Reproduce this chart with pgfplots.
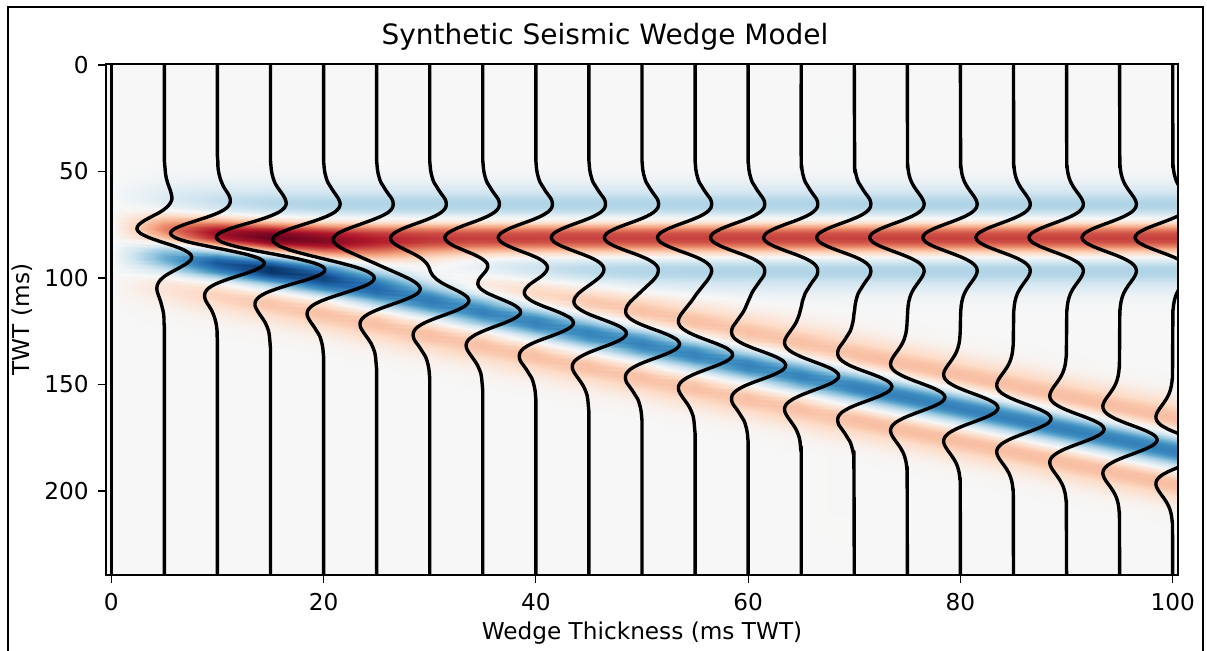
\documentclass[border=0pt]{standalone}
\usepackage{pgfplots}
\pgfplotsset{compat=1.18}
\usepackage{pgfplotstable}
\usepackage{fontspec}
\setmainfont{DejaVu Sans}
\definecolor{rdmid}{RGB}{247,247,247}
\pgfplotsset{wig/.style={black, line width=1.7pt, smooth, line join=round}}

% synthetic amplitude on a sheared grid (x = wedge thickness, t = TWT, s = amplitude)
\pgfplotstableread[row sep=\\]{
x t s\\
0 -0.5 0\\ 0 19 0\\ 0 21 0\\ 0 23 0\\ 0 25 0\\ 0 27 0\\ 0 29 0\\ 0 31 0\\ 0 33 0\\ 0 35 0\\ 0 37 0\\ 0 39 0\\ 0 41 0\\ 0 43 0\\ 0 45 0\\
0 47 0\\ 0 49 0\\ 0 51 0\\ 0 53 0\\ 0 55 0\\ 0 57 0\\ 0 59 0\\ 0 61 0\\ 0 63 0\\ 0 65 0\\ 0 67 0\\ 0 69 0\\ 0 71 0\\ 0 73 0\\ 0 75 0\\
0 77 0\\ 0 79 0\\ 0 81 0\\ 0 83 0\\ 0 85 0\\ 0 87 0\\ 0 89 0\\ 0 91 0\\ 0 93 0\\ 0 95 0\\ 0 97 0\\ 0 99 0\\ 0 101 0\\ 0 103 0\\ 0 105 0\\
0 107 0\\ 0 109 0\\ 0 111 0\\ 0 113 0\\ 0 115 0\\ 0 117 0\\ 0 119 0\\ 0 121 0\\ 0 123 0\\ 0 125 0\\ 0 127 0\\ 0 129 0\\ 0 131 0\\ 0 133 0\\ 0 135 0\\
0 137 0\\ 0 139 0\\ 0 141 0\\ 0 143 0\\ 0 145 0\\ 0 147 0\\ 0 149 0\\ 0 151 0\\ 0 153 0\\ 0 155 0\\ 0 157 0\\ 0 239.5 0\\
5 -0.5 0\\ 5 21 0\\ 5 23 0\\ 5 25 0\\ 5 27 0\\ 5 29 0\\ 5 31 0\\ 5 33 0\\ 5 35 0\\ 5 37 0\\ 5 39 0\\ 5 41 0\\ 5 43 0\\ 5 45 0\\
5 47 0.01\\ 5 49 0.02\\ 5 51 0.03\\ 5 53 0.05\\ 5 55 0.08\\ 5 57 0.12\\ 5 59 0.16\\ 5 61 0.19\\ 5 63 0.20\\ 5 65 0.15\\ 5 67 0.05\\
5 69 -0.11\\ 5 71 -0.32\\ 5 73 -0.53\\ 5 75 -0.68\\ 5 77 -0.73\\ 5 79 -0.64\\ 5 81 -0.41\\ 5 83 -0.09\\ 5 85 0.26\\ 5 87 0.54\\
5 89 0.70\\ 5 91 0.72\\ 5 93 0.61\\ 5 95 0.42\\ 5 97 0.21\\ 5 99 0.02\\ 5 101 -0.11\\ 5 103 -0.18\\ 5 105 -0.20\\ 5 107 -0.18\\
5 109 -0.14\\ 5 111 -0.10\\ 5 113 -0.07\\ 5 115 -0.04\\ 5 117 -0.02\\ 5 119 -0.01\\ 5 121 -0.01\\
5 123 0\\ 5 125 0\\ 5 127 0\\ 5 129 0\\ 5 131 0\\ 5 133 0\\ 5 135 0\\ 5 137 0\\ 5 139 0\\ 5 141 0\\ 5 143 0\\ 5 145 0\\ 5 147 0\\
5 149 0\\ 5 151 0\\ 5 153 0\\ 5 155 0\\ 5 157 0\\ 5 159 0\\ 5 239.5 0\\
10 -0.5 0\\ 10 23 0\\ 10 25 0\\ 10 27 0\\ 10 29 0\\ 10 31 0\\ 10 33 0\\ 10 35 0\\ 10 37 0\\ 10 39 0\\ 10 41 0\\ 10 43 0\\
10 45 0.01\\ 10 47 0.01\\ 10 49 0.02\\ 10 51 0.04\\ 10 53 0.07\\ 10 55 0.11\\ 10 57 0.16\\ 10 59 0.23\\ 10 61 0.30\\ 10 63 0.34\\
10 65 0.33\\ 10 67 0.25\\ 10 69 0.07\\ 10 71 -0.21\\ 10 73 -0.55\\ 10 75 -0.89\\ 10 77 -1.15\\ 10 79 -1.25\\ 10 81 -1.13\\ 10 83 -0.79\\
10 85 -0.28\\ 10 87 0.28\\ 10 89 0.79\\ 10 91 1.13\\ 10 93 1.25\\ 10 95 1.15\\ 10 97 0.89\\ 10 99 0.55\\ 10 101 0.21\\ 10 103 -0.07\\
10 105 -0.25\\ 10 107 -0.33\\ 10 109 -0.34\\ 10 111 -0.30\\ 10 113 -0.23\\ 10 115 -0.16\\ 10 117 -0.11\\ 10 119 -0.07\\ 10 121 -0.04\\
10 123 -0.02\\ 10 125 -0.01\\ 10 127 -0.01\\
10 129 0\\ 10 131 0\\ 10 133 0\\ 10 135 0\\ 10 137 0\\ 10 139 0\\ 10 141 0\\ 10 143 0\\ 10 145 0\\ 10 147 0\\ 10 149 0\\ 10 151 0\\
10 153 0\\ 10 155 0\\ 10 157 0\\ 10 159 0\\ 10 161 0\\ 10 239.5 0\\
15 -0.5 0\\ 15 25 0\\ 15 27 0\\ 15 29 0\\ 15 31 0\\ 15 33 0\\ 15 35 0\\ 15 37 0\\ 15 39 0\\ 15 41 0\\ 15 43 0\\ 15 45 0\\
15 47 0.01\\ 15 49 0.02\\ 15 51 0.04\\ 15 53 0.07\\ 15 55 0.11\\ 15 57 0.17\\ 15 59 0.25\\ 15 61 0.33\\ 15 63 0.39\\ 15 65 0.42\\
15 67 0.37\\ 15 69 0.23\\ 15 71 -0.02\\ 15 73 -0.35\\ 15 75 -0.74\\ 15 77 -1.10\\ 15 79 -1.36\\ 15 81 -1.44\\ 15 83 -1.31\\ 15 85 -0.96\\
15 87 -0.45\\ 15 89 0.15\\ 15 91 0.72\\ 15 93 1.16\\ 15 95 1.41\\ 15 97 1.43\\ 15 99 1.25\\ 15 101 0.93\\ 15 103 0.54\\ 15 105 0.18\\
15 107 -0.12\\ 15 109 -0.31\\ 15 111 -0.40\\ 15 113 -0.41\\ 15 115 -0.36\\ 15 117 -0.29\\ 15 119 -0.21\\ 15 121 -0.14\\ 15 123 -0.09\\
15 125 -0.05\\ 15 127 -0.03\\ 15 129 -0.02\\ 15 131 -0.01\\
15 133 0\\ 15 135 0\\ 15 137 0\\ 15 139 0\\ 15 141 0\\ 15 143 0\\ 15 145 0\\ 15 147 0\\ 15 149 0\\ 15 151 0\\ 15 153 0\\ 15 155 0\\
15 157 0\\ 15 159 0\\ 15 161 0\\ 15 163 0\\ 15 239.5 0\\
20 -0.5 0\\ 20 27 0\\ 20 29 0\\ 20 31 0\\ 20 33 0\\ 20 35 0\\ 20 37 0\\ 20 39 0\\ 20 41 0\\ 20 43 0\\ 20 45 0\\
20 47 0.01\\ 20 49 0.02\\ 20 51 0.04\\ 20 53 0.07\\ 20 55 0.11\\ 20 57 0.18\\ 20 59 0.25\\ 20 61 0.33\\ 20 63 0.40\\ 20 65 0.44\\
20 67 0.41\\ 20 69 0.30\\ 20 71 0.09\\ 20 73 -0.21\\ 20 75 -0.56\\ 20 77 -0.90\\ 20 79 -1.18\\ 20 81 -1.33\\ 20 83 -1.33\\ 20 85 -1.17\\
20 87 -0.87\\ 20 89 -0.46\\ 20 91 0\\ 20 93 0.46\\ 20 95 0.87\\ 20 97 1.17\\ 20 99 1.33\\ 20 101 1.33\\ 20 103 1.18\\ 20 105 0.90\\
20 107 0.56\\ 20 109 0.21\\ 20 111 -0.09\\ 20 113 -0.30\\ 20 115 -0.41\\ 20 117 -0.44\\ 20 119 -0.40\\ 20 121 -0.33\\ 20 123 -0.25\\
20 125 -0.18\\ 20 127 -0.11\\ 20 129 -0.07\\ 20 131 -0.04\\ 20 133 -0.02\\ 20 135 -0.01\\
20 137 0\\ 20 139 0\\ 20 141 0\\ 20 143 0\\ 20 145 0\\ 20 147 0\\ 20 149 0\\ 20 151 0\\ 20 153 0\\ 20 155 0\\ 20 157 0\\ 20 159 0\\
20 161 0\\ 20 163 0\\ 20 165 0\\ 20 239.5 0\\
25 -0.5 0\\ 25 29 0\\ 25 31 0\\ 25 33 0\\ 25 35 0\\ 25 37 0\\ 25 39 0\\ 25 41 0\\ 25 43 0\\ 25 45 0\\
25 47 0.01\\ 25 49 0.02\\ 25 51 0.04\\ 25 53 0.07\\ 25 55 0.11\\ 25 57 0.18\\ 25 59 0.25\\ 25 61 0.33\\ 25 63 0.41\\ 25 65 0.44\\
25 67 0.42\\ 25 69 0.32\\ 25 71 0.12\\ 25 73 -0.16\\ 25 75 -0.47\\ 25 77 -0.78\\ 25 79 -1.02\\ 25 81 -1.14\\ 25 83 -1.14\\ 25 85 -1.02\\
25 87 -0.82\\ 25 89 -0.57\\ 25 91 -0.32\\ 25 93 -0.06\\ 25 95 0.19\\ 25 97 0.45\\ 25 99 0.70\\ 25 101 0.93\\ 25 103 1.09\\ 25 105 1.16\\
25 107 1.10\\ 25 109 0.91\\ 25 111 0.63\\ 25 113 0.31\\ 25 115 0.01\\ 25 117 -0.23\\ 25 119 -0.38\\ 25 121 -0.44\\ 25 123 -0.43\\
25 125 -0.37\\ 25 127 -0.29\\ 25 129 -0.21\\ 25 131 -0.14\\ 25 133 -0.09\\ 25 135 -0.05\\ 25 137 -0.03\\ 25 139 -0.02\\ 25 141 -0.01\\
25 143 0\\ 25 145 0\\ 25 147 0\\ 25 149 0\\ 25 151 0\\ 25 153 0\\ 25 155 0\\ 25 157 0\\ 25 159 0\\ 25 161 0\\ 25 163 0\\ 25 165 0\\
25 167 0\\ 25 239.5 0\\
30 -0.5 0\\ 30 31 0\\ 30 33 0\\ 30 35 0\\ 30 37 0\\ 30 39 0\\ 30 41 0\\ 30 43 0\\ 30 45 0\\
30 47 0.01\\ 30 49 0.02\\ 30 51 0.04\\ 30 53 0.07\\ 30 55 0.11\\ 30 57 0.18\\ 30 59 0.25\\ 30 61 0.33\\ 30 63 0.41\\ 30 65 0.44\\
30 67 0.42\\ 30 69 0.32\\ 30 71 0.13\\ 30 73 -0.14\\ 30 75 -0.45\\ 30 77 -0.74\\ 30 79 -0.95\\ 30 81 -1.04\\ 30 83 -1.00\\ 30 85 -0.84\\
30 87 -0.62\\ 30 89 -0.39\\ 30 91 -0.21\\ 30 93 -0.09\\ 30 95 -0.02\\ 30 97 0.02\\ 30 99 0.09\\ 30 101 0.21\\ 30 103 0.39\\ 30 105 0.62\\
30 107 0.84\\ 30 109 1.00\\ 30 111 1.04\\ 30 113 0.95\\ 30 115 0.74\\ 30 117 0.45\\ 30 119 0.14\\ 30 121 -0.13\\ 30 123 -0.32\\
30 125 -0.42\\ 30 127 -0.44\\ 30 129 -0.41\\ 30 131 -0.33\\ 30 133 -0.25\\ 30 135 -0.18\\ 30 137 -0.11\\ 30 139 -0.07\\ 30 141 -0.04\\
30 143 -0.02\\ 30 145 -0.01\\
30 147 0\\ 30 149 0\\ 30 151 0\\ 30 153 0\\ 30 155 0\\ 30 157 0\\ 30 159 0\\ 30 161 0\\ 30 163 0\\ 30 165 0\\ 30 167 0\\ 30 169 0\\
30 239.5 0\\
35 -0.5 0\\ 35 33 0\\ 35 35 0\\ 35 37 0\\ 35 39 0\\ 35 41 0\\ 35 43 0\\ 35 45 0\\
35 47 0.01\\ 35 49 0.02\\ 35 51 0.04\\ 35 53 0.07\\ 35 55 0.11\\ 35 57 0.18\\ 35 59 0.25\\ 35 61 0.33\\ 35 63 0.41\\ 35 65 0.44\\
35 67 0.42\\ 35 69 0.32\\ 35 71 0.13\\ 35 73 -0.14\\ 35 75 -0.45\\ 35 77 -0.73\\ 35 79 -0.93\\ 35 81 -1.01\\ 35 83 -0.94\\ 35 85 -0.76\\
35 87 -0.50\\ 35 89 -0.23\\ 35 91 -0.02\\ 35 93 0.11\\ 35 95 0.13\\ 35 97 0.07\\ 35 99 -0.03\\ 35 101 -0.11\\ 35 103 -0.13\\ 35 105 -0.06\\
35 107 0.11\\ 35 109 0.36\\ 35 111 0.63\\ 35 113 0.86\\ 35 115 0.99\\ 35 117 0.99\\ 35 119 0.84\\ 35 121 0.59\\ 35 123 0.29\\ 35 125 0\\
35 127 -0.23\\ 35 129 -0.38\\ 35 131 -0.44\\ 35 133 -0.43\\ 35 135 -0.37\\ 35 137 -0.29\\ 35 139 -0.21\\ 35 141 -0.14\\ 35 143 -0.09\\
35 145 -0.05\\ 35 147 -0.03\\ 35 149 -0.02\\ 35 151 -0.01\\
35 153 0\\ 35 155 0\\ 35 157 0\\ 35 159 0\\ 35 161 0\\ 35 163 0\\ 35 165 0\\ 35 167 0\\ 35 169 0\\ 35 171 0\\ 35 239.5 0\\
40 -0.5 0\\ 40 35 0\\ 40 37 0\\ 40 39 0\\ 40 41 0\\ 40 43 0\\ 40 45 0\\
40 47 0.01\\ 40 49 0.02\\ 40 51 0.04\\ 40 53 0.07\\ 40 55 0.11\\ 40 57 0.18\\ 40 59 0.25\\ 40 61 0.33\\ 40 63 0.41\\ 40 65 0.44\\
40 67 0.42\\ 40 69 0.32\\ 40 71 0.13\\ 40 73 -0.14\\ 40 75 -0.45\\ 40 77 -0.73\\ 40 79 -0.93\\ 40 81 -1.00\\ 40 83 -0.93\\ 40 85 -0.73\\
40 87 -0.46\\ 40 89 -0.16\\ 40 91 0.09\\ 40 93 0.25\\ 40 95 0.31\\ 40 97 0.27\\ 40 99 0.16\\ 40 101 0\\ 40 103 -0.16\\ 40 105 -0.27\\
40 107 -0.31\\ 40 109 -0.25\\ 40 111 -0.09\\ 40 113 0.16\\ 40 115 0.46\\ 40 117 0.73\\ 40 119 0.93\\ 40 121 1.00\\ 40 123 0.93\\
40 125 0.73\\ 40 127 0.45\\ 40 129 0.14\\ 40 131 -0.13\\ 40 133 -0.32\\ 40 135 -0.42\\ 40 137 -0.44\\ 40 139 -0.41\\ 40 141 -0.33\\
40 143 -0.25\\ 40 145 -0.18\\ 40 147 -0.11\\ 40 149 -0.07\\ 40 151 -0.04\\ 40 153 -0.02\\ 40 155 -0.01\\
40 157 0\\ 40 159 0\\ 40 161 0\\ 40 163 0\\ 40 165 0\\ 40 167 0\\ 40 169 0\\ 40 171 0\\ 40 173 0\\ 40 239.5 0\\
45 -0.5 0\\ 45 37 0\\ 45 39 0\\ 45 41 0\\ 45 43 0\\ 45 45 0\\
45 47 0.01\\ 45 49 0.02\\ 45 51 0.04\\ 45 53 0.07\\ 45 55 0.11\\ 45 57 0.18\\ 45 59 0.25\\ 45 61 0.33\\ 45 63 0.41\\ 45 65 0.44\\
45 67 0.42\\ 45 69 0.32\\ 45 71 0.13\\ 45 73 -0.14\\ 45 75 -0.45\\ 45 77 -0.73\\ 45 79 -0.93\\ 45 81 -1.00\\ 45 83 -0.93\\ 45 85 -0.73\\
45 87 -0.45\\ 45 89 -0.15\\ 45 91 0.12\\ 45 93 0.30\\ 45 95 0.39\\ 45 97 0.39\\ 45 99 0.32\\ 45 101 0.19\\ 45 103 0.04\\ 45 105 -0.12\\
45 107 -0.26\\ 45 109 -0.36\\ 45 111 -0.40\\ 45 113 -0.36\\ 45 115 -0.22\\ 45 117 0\\ 45 119 0.29\\ 45 121 0.59\\ 45 123 0.84\\
45 125 0.98\\ 45 127 0.98\\ 45 129 0.84\\ 45 131 0.59\\ 45 133 0.29\\ 45 135 0\\ 45 137 -0.23\\ 45 139 -0.38\\ 45 141 -0.44\\
45 143 -0.43\\ 45 145 -0.37\\ 45 147 -0.29\\ 45 149 -0.21\\ 45 151 -0.14\\ 45 153 -0.09\\ 45 155 -0.05\\ 45 157 -0.03\\ 45 159 -0.02\\
45 161 -0.01\\ 45 163 0\\ 45 165 0\\ 45 167 0\\ 45 169 0\\ 45 171 0\\ 45 173 0\\ 45 175 0\\ 45 239.5 0\\
50 -0.5 0\\ 50 39 0\\ 50 41 0\\ 50 43 0\\ 50 45 0\\
50 47 0.01\\ 50 49 0.02\\ 50 51 0.04\\ 50 53 0.07\\ 50 55 0.11\\ 50 57 0.18\\ 50 59 0.25\\ 50 61 0.33\\ 50 63 0.41\\ 50 65 0.44\\
50 67 0.42\\ 50 69 0.32\\ 50 71 0.13\\ 50 73 -0.14\\ 50 75 -0.45\\ 50 77 -0.73\\ 50 79 -0.93\\ 50 81 -1.00\\ 50 83 -0.93\\ 50 85 -0.73\\
50 87 -0.45\\ 50 89 -0.14\\ 50 91 0.13\\ 50 93 0.32\\ 50 95 0.42\\ 50 97 0.43\\ 50 99 0.39\\ 50 101 0.30\\ 50 103 0.18\\ 50 105 0.06\\
50 107 -0.06\\ 50 109 -0.18\\ 50 111 -0.30\\ 50 113 -0.39\\ 50 115 -0.43\\ 50 117 -0.42\\ 50 119 -0.32\\ 50 121 -0.13\\ 50 123 0.14\\
50 125 0.45\\ 50 127 0.73\\ 50 129 0.93\\ 50 131 1.00\\ 50 133 0.93\\ 50 135 0.73\\ 50 137 0.45\\ 50 139 0.14\\ 50 141 -0.13\\
50 143 -0.32\\ 50 145 -0.42\\ 50 147 -0.44\\ 50 149 -0.41\\ 50 151 -0.33\\ 50 153 -0.25\\ 50 155 -0.18\\ 50 157 -0.11\\ 50 159 -0.07\\
50 161 -0.04\\ 50 163 -0.02\\ 50 165 -0.01\\ 50 167 0\\ 50 169 0\\ 50 171 0\\ 50 173 0\\ 50 175 0\\ 50 177 0\\ 50 239.5 0\\
55 -0.5 0\\ 55 41 0\\ 55 43 0\\ 55 45 0\\
55 47 0.01\\ 55 49 0.02\\ 55 51 0.04\\ 55 53 0.07\\ 55 55 0.11\\ 55 57 0.18\\ 55 59 0.25\\ 55 61 0.33\\ 55 63 0.41\\ 55 65 0.44\\
55 67 0.42\\ 55 69 0.32\\ 55 71 0.13\\ 55 73 -0.14\\ 55 75 -0.45\\ 55 77 -0.73\\ 55 79 -0.93\\ 55 81 -1.00\\ 55 83 -0.93\\ 55 85 -0.73\\
55 87 -0.45\\ 55 89 -0.14\\ 55 91 0.13\\ 55 93 0.32\\ 55 95 0.42\\ 55 97 0.44\\ 55 99 0.40\\ 55 101 0.33\\ 55 103 0.24\\ 55 105 0.15\\
55 107 0.06\\ 55 109 -0.02\\ 55 111 -0.10\\ 55 113 -0.19\\ 55 115 -0.28\\ 55 117 -0.37\\ 55 119 -0.43\\ 55 121 -0.44\\ 55 123 -0.38\\
55 125 -0.23\\ 55 127 0\\ 55 129 0.29\\ 55 131 0.59\\ 55 133 0.84\\ 55 135 0.98\\ 55 137 0.98\\ 55 139 0.84\\ 55 141 0.59\\ 55 143 0.29\\
55 145 0\\ 55 147 -0.23\\ 55 149 -0.38\\ 55 151 -0.44\\ 55 153 -0.43\\ 55 155 -0.37\\ 55 157 -0.29\\ 55 159 -0.21\\ 55 161 -0.14\\
55 163 -0.09\\ 55 165 -0.05\\ 55 167 -0.03\\ 55 169 -0.02\\ 55 171 -0.01\\ 55 173 0\\ 55 175 0\\ 55 177 0\\ 55 179 0\\ 55 239.5 0\\
60 -0.5 0\\ 60 43 0\\ 60 45 0\\
60 47 0.01\\ 60 49 0.02\\ 60 51 0.04\\ 60 53 0.07\\ 60 55 0.11\\ 60 57 0.18\\ 60 59 0.25\\ 60 61 0.33\\ 60 63 0.41\\ 60 65 0.44\\
60 67 0.42\\ 60 69 0.32\\ 60 71 0.13\\ 60 73 -0.14\\ 60 75 -0.45\\ 60 77 -0.73\\ 60 79 -0.93\\ 60 81 -1.00\\ 60 83 -0.93\\ 60 85 -0.73\\
60 87 -0.45\\ 60 89 -0.14\\ 60 91 0.13\\ 60 93 0.32\\ 60 95 0.42\\ 60 97 0.44\\ 60 99 0.41\\ 60 101 0.33\\ 60 103 0.25\\ 60 105 0.17\\
60 107 0.10\\ 60 109 0.05\\ 60 111 0\\ 60 113 -0.05\\ 60 115 -0.10\\ 60 117 -0.17\\ 60 119 -0.25\\ 60 121 -0.33\\ 60 123 -0.41\\
60 125 -0.44\\ 60 127 -0.42\\ 60 129 -0.32\\ 60 131 -0.13\\ 60 133 0.14\\ 60 135 0.45\\ 60 137 0.73\\ 60 139 0.93\\ 60 141 1.00\\
60 143 0.93\\ 60 145 0.73\\ 60 147 0.45\\ 60 149 0.14\\ 60 151 -0.13\\ 60 153 -0.32\\ 60 155 -0.42\\ 60 157 -0.44\\ 60 159 -0.41\\
60 161 -0.33\\ 60 163 -0.25\\ 60 165 -0.18\\ 60 167 -0.11\\ 60 169 -0.07\\ 60 171 -0.04\\ 60 173 -0.02\\ 60 175 -0.01\\
60 177 0\\ 60 179 0\\ 60 181 0\\ 60 239.5 0\\
65 -0.5 0\\ 65 45 0\\
65 47 0.01\\ 65 49 0.02\\ 65 51 0.04\\ 65 53 0.07\\ 65 55 0.11\\ 65 57 0.18\\ 65 59 0.25\\ 65 61 0.33\\ 65 63 0.41\\ 65 65 0.44\\
65 67 0.42\\ 65 69 0.32\\ 65 71 0.13\\ 65 73 -0.14\\ 65 75 -0.45\\ 65 77 -0.73\\ 65 79 -0.93\\ 65 81 -1.00\\ 65 83 -0.93\\ 65 85 -0.73\\
65 87 -0.45\\ 65 89 -0.14\\ 65 91 0.13\\ 65 93 0.32\\ 65 95 0.42\\ 65 97 0.44\\ 65 99 0.41\\ 65 101 0.33\\ 65 103 0.25\\ 65 105 0.18\\
65 107 0.11\\ 65 109 0.07\\ 65 111 0.03\\ 65 113 0.01\\ 65 115 -0.02\\ 65 117 -0.05\\ 65 119 -0.09\\ 65 121 -0.14\\ 65 123 -0.21\\
65 125 -0.29\\ 65 127 -0.37\\ 65 129 -0.43\\ 65 131 -0.44\\ 65 133 -0.38\\ 65 135 -0.23\\ 65 137 0\\ 65 139 0.29\\ 65 141 0.59\\
65 143 0.84\\ 65 145 0.98\\ 65 147 0.98\\ 65 149 0.84\\ 65 151 0.59\\ 65 153 0.29\\ 65 155 0\\ 65 157 -0.23\\ 65 159 -0.38\\
65 161 -0.44\\ 65 163 -0.43\\ 65 165 -0.37\\ 65 167 -0.29\\ 65 169 -0.21\\ 65 171 -0.14\\ 65 173 -0.09\\ 65 175 -0.05\\ 65 177 -0.03\\
65 179 -0.02\\ 65 181 -0.01\\ 65 183 0\\ 65 239.5 0\\
70 -0.5 0\\
70 47 0.01\\ 70 49 0.02\\ 70 51 0.04\\ 70 53 0.07\\ 70 55 0.11\\ 70 57 0.18\\ 70 59 0.25\\ 70 61 0.33\\ 70 63 0.41\\ 70 65 0.44\\
70 67 0.42\\ 70 69 0.32\\ 70 71 0.13\\ 70 73 -0.14\\ 70 75 -0.45\\ 70 77 -0.73\\ 70 79 -0.93\\ 70 81 -1.00\\ 70 83 -0.93\\ 70 85 -0.73\\
70 87 -0.45\\ 70 89 -0.14\\ 70 91 0.13\\ 70 93 0.32\\ 70 95 0.42\\ 70 97 0.44\\ 70 99 0.41\\ 70 101 0.33\\ 70 103 0.25\\ 70 105 0.18\\
70 107 0.11\\ 70 109 0.07\\ 70 111 0.04\\ 70 113 0.02\\ 70 115 0.01\\ 70 117 -0.01\\ 70 119 -0.02\\ 70 121 -0.04\\ 70 123 -0.07\\
70 125 -0.11\\ 70 127 -0.18\\ 70 129 -0.25\\ 70 131 -0.33\\ 70 133 -0.41\\ 70 135 -0.44\\ 70 137 -0.42\\ 70 139 -0.32\\ 70 141 -0.13\\
70 143 0.14\\ 70 145 0.45\\ 70 147 0.73\\ 70 149 0.93\\ 70 151 1.00\\ 70 153 0.93\\ 70 155 0.73\\ 70 157 0.45\\ 70 159 0.14\\
70 161 -0.13\\ 70 163 -0.32\\ 70 165 -0.42\\ 70 167 -0.44\\ 70 169 -0.41\\ 70 171 -0.33\\ 70 173 -0.25\\ 70 175 -0.18\\ 70 177 -0.11\\
70 179 -0.07\\ 70 181 -0.04\\ 70 183 -0.02\\ 70 185 -0.01\\ 70 239.5 0\\
}\grid

% reflection wavelet (offset d in ms, amplitude w), for the thick part of the wedge
\pgfplotstableread[row sep=\\]{
X d w\\
70 -36 -0.005\\ 101 -36 -0.005\\ 70 -34 -0.011\\ 101 -34 -0.011\\ 70 -32 -0.021\\ 101 -32 -0.021\\
70 -30 -0.039\\ 101 -30 -0.039\\ 70 -28 -0.069\\ 101 -28 -0.069\\ 70 -26 -0.113\\ 101 -26 -0.113\\
70 -24 -0.175\\ 101 -24 -0.175\\ 70 -22 -0.251\\ 101 -22 -0.251\\ 70 -20 -0.334\\ 101 -20 -0.334\\
70 -18 -0.406\\ 101 -18 -0.406\\ 70 -16 -0.445\\ 101 -16 -0.445\\ 70 -14 -0.423\\ 101 -14 -0.423\\
70 -12 -0.319\\ 101 -12 -0.319\\ 70 -10 -0.126\\ 101 -10 -0.126\\ 70 -8 0.142\\ 101 -8 0.142\\
70 -6 0.445\\ 101 -6 0.445\\ 70 -4 0.727\\ 101 -4 0.727\\ 70 -2 0.927\\ 101 -2 0.927\\
70 0 1\\ 101 0 1\\
70 2 0.927\\ 101 2 0.927\\ 70 4 0.727\\ 101 4 0.727\\ 70 6 0.445\\ 101 6 0.445\\
70 8 0.142\\ 101 8 0.142\\ 70 10 -0.126\\ 101 10 -0.126\\ 70 12 -0.319\\ 101 12 -0.319\\
70 14 -0.423\\ 101 14 -0.423\\ 70 16 -0.445\\ 101 16 -0.445\\ 70 18 -0.406\\ 101 18 -0.406\\
70 20 -0.334\\ 101 20 -0.334\\ 70 22 -0.251\\ 101 22 -0.251\\ 70 24 -0.175\\ 101 24 -0.175\\
70 26 -0.113\\ 101 26 -0.113\\ 70 28 -0.069\\ 101 28 -0.069\\ 70 30 -0.039\\ 101 30 -0.039\\
70 32 -0.021\\ 101 32 -0.021\\ 70 34 -0.011\\ 101 34 -0.011\\ 70 36 -0.005\\ 101 36 -0.005\\
}\band

% one trace of the thick part: y = a + X*b, amplitude v
\pgfplotstableread[row sep=\\]{
a b v\\
-0.5 0 0\\
45 0 0.005\\ 47 0 0.011\\ 49 0 0.021\\ 51 0 0.039\\ 53 0 0.069\\ 55 0 0.113\\ 57 0 0.175\\ 59 0 0.251\\ 61 0 0.334\\
63 0 0.406\\ 65 0 0.445\\ 67 0 0.423\\ 69 0 0.319\\ 71 0 0.126\\ 73 0 -0.142\\ 75 0 -0.445\\ 77 0 -0.727\\ 79 0 -0.927\\
81 0 -1\\ 83 0 -0.927\\ 85 0 -0.727\\ 87 0 -0.445\\ 89 0 -0.142\\ 91 0 0.126\\ 93 0 0.319\\ 95 0 0.423\\ 97 0 0.445\\
99 0 0.406\\ 101 0 0.334\\ 103 0 0.251\\ 105 0 0.175\\ 107 0 0.113\\ 109 0 0.069\\ 111 0 0.039\\ 113 0 0.021\\ 115 0 0.011\\ 117 0 0.005\\
45 1 -0.005\\ 47 1 -0.011\\ 49 1 -0.021\\ 51 1 -0.039\\ 53 1 -0.069\\ 55 1 -0.113\\ 57 1 -0.175\\ 59 1 -0.251\\ 61 1 -0.334\\
63 1 -0.406\\ 65 1 -0.445\\ 67 1 -0.423\\ 69 1 -0.319\\ 71 1 -0.126\\ 73 1 0.142\\ 75 1 0.445\\ 77 1 0.727\\ 79 1 0.927\\
81 1 1\\ 83 1 0.927\\ 85 1 0.727\\ 87 1 0.445\\ 89 1 0.142\\ 91 1 -0.126\\ 93 1 -0.319\\ 95 1 -0.423\\ 97 1 -0.445\\
99 1 -0.406\\ 101 1 -0.334\\ 103 1 -0.251\\ 105 1 -0.175\\ 107 1 -0.113\\ 109 1 -0.069\\ 111 1 -0.039\\ 113 1 -0.021\\ 115 1 -0.011\\ 117 1 -0.005\\
239.5 0 0\\
}\tpl

\begin{document}
\begin{tikzpicture}[x=1pt,y=1pt]
\useasboundingbox (0,0) rectangle (603.5,325);
\draw[line width=1pt] (4.2,-6) rectangle (601.5,321.6);
\begin{axis}[
  at={(53pt,37.5pt)}, anchor=south west, scale only axis,
  width=536pt, height=255.5pt,
  xmin=-0.5, xmax=100.5, ymin=-0.5, ymax=239.5, y dir=reverse,
  axis background/.style={fill=rdmid},
  xtick={0,20,...,100}, ytick={0,50,...,200},
  tick pos=left, tick align=outside, major tick length=4pt,
  tick style={black, line width=0.6pt},
  axis line style={black, line width=0.8pt},
  /pgf/number format/assume math mode=true,
  tick label style={font=\fontsize{11.6}{13}\selectfont},
  xticklabel style={anchor=base, inner sep=0pt, yshift=-13.5pt},
  yticklabel style={anchor=east, inner sep=0pt, xshift=-4.5pt},
  xlabel={Wedge Thickness (ms TWT)}, ylabel={TWT (ms)},
  label style={font=\fontsize{11.6}{13}\selectfont},
  xlabel style={at={(axis description cs:0.5,0)}, anchor=base, yshift=-32pt},
  ylabel style={at={(axis description cs:-0.0784,0.5)}, anchor=center},
  colormap={rdbu}{rgb255=(103,0,31) rgb255=(178,24,43) rgb255=(214,96,77) rgb255=(244,165,130) rgb255=(253,219,199) rgb255=(247,247,247) rgb255=(209,229,240) rgb255=(146,197,222) rgb255=(67,147,195) rgb255=(33,102,172) rgb255=(5,48,97)},
  point meta min=-1.45, point meta max=1.45,
  axis on top,
]
% amplitude image
\addplot[surf, shader=interp, mesh/ordering=y varies, mesh/rows=72, mesh/cols=15, point meta=explicit]
  table[x=x, y=t, meta=s] {\grid};
\addplot[surf, shader=interp, mesh/ordering=x varies, mesh/rows=37, mesh/cols=2, point meta=explicit]
  table[x=X, y expr=81+\thisrow{d}, meta expr=-\thisrow{w}] {\band};
\addplot[surf, shader=interp, mesh/ordering=x varies, mesh/rows=37, mesh/cols=2, point meta=explicit]
  table[x=X, y expr=81+\thisrow{X}+\thisrow{d}, meta expr=\thisrow{w}] {\band};
% wiggle traces
\addplot[wig] coordinates {(0,-0.5) (0,239.5)};
\addplot[wig, restrict expr to domain={\thisrow{x}}{4.5:5.5}] table[x expr=\thisrow{x}+3.55*\thisrow{s}, y=t] {\grid};
\addplot[wig, restrict expr to domain={\thisrow{x}}{9.5:10.5}] table[x expr=\thisrow{x}+3.55*\thisrow{s}, y=t] {\grid};
\addplot[wig, restrict expr to domain={\thisrow{x}}{14.5:15.5}] table[x expr=\thisrow{x}+3.55*\thisrow{s}, y=t] {\grid};
\addplot[wig, restrict expr to domain={\thisrow{x}}{19.5:20.5}] table[x expr=\thisrow{x}+3.55*\thisrow{s}, y=t] {\grid};
\addplot[wig, restrict expr to domain={\thisrow{x}}{24.5:25.5}] table[x expr=\thisrow{x}+3.55*\thisrow{s}, y=t] {\grid};
\addplot[wig, restrict expr to domain={\thisrow{x}}{29.5:30.5}] table[x expr=\thisrow{x}+3.55*\thisrow{s}, y=t] {\grid};
\addplot[wig, restrict expr to domain={\thisrow{x}}{34.5:35.5}] table[x expr=\thisrow{x}+3.55*\thisrow{s}, y=t] {\grid};
\addplot[wig, restrict expr to domain={\thisrow{x}}{39.5:40.5}] table[x expr=\thisrow{x}+3.55*\thisrow{s}, y=t] {\grid};
\addplot[wig, restrict expr to domain={\thisrow{x}}{44.5:45.5}] table[x expr=\thisrow{x}+3.55*\thisrow{s}, y=t] {\grid};
\addplot[wig, restrict expr to domain={\thisrow{x}}{49.5:50.5}] table[x expr=\thisrow{x}+3.55*\thisrow{s}, y=t] {\grid};
\addplot[wig, restrict expr to domain={\thisrow{x}}{54.5:55.5}] table[x expr=\thisrow{x}+3.55*\thisrow{s}, y=t] {\grid};
\addplot[wig, restrict expr to domain={\thisrow{x}}{59.5:60.5}] table[x expr=\thisrow{x}+3.55*\thisrow{s}, y=t] {\grid};
\addplot[wig, restrict expr to domain={\thisrow{x}}{64.5:65.5}] table[x expr=\thisrow{x}+3.55*\thisrow{s}, y=t] {\grid};
\addplot[wig, restrict expr to domain={\thisrow{x}}{69.5:70.5}] table[x expr=\thisrow{x}+3.55*\thisrow{s}, y=t] {\grid};
\pgfplotsinvokeforeach{75,80,85,90,95,100}{
  \addplot[wig] table[x expr=#1+3.55*\thisrow{v}, y expr=\thisrow{a}+#1*\thisrow{b}] {\tpl};
}
\end{axis}
\node[anchor=base, font=\fontsize{14}{17}\selectfont] at (302.5,302.5) {Synthetic Seismic Wedge Model};
\end{tikzpicture}
\end{document}
